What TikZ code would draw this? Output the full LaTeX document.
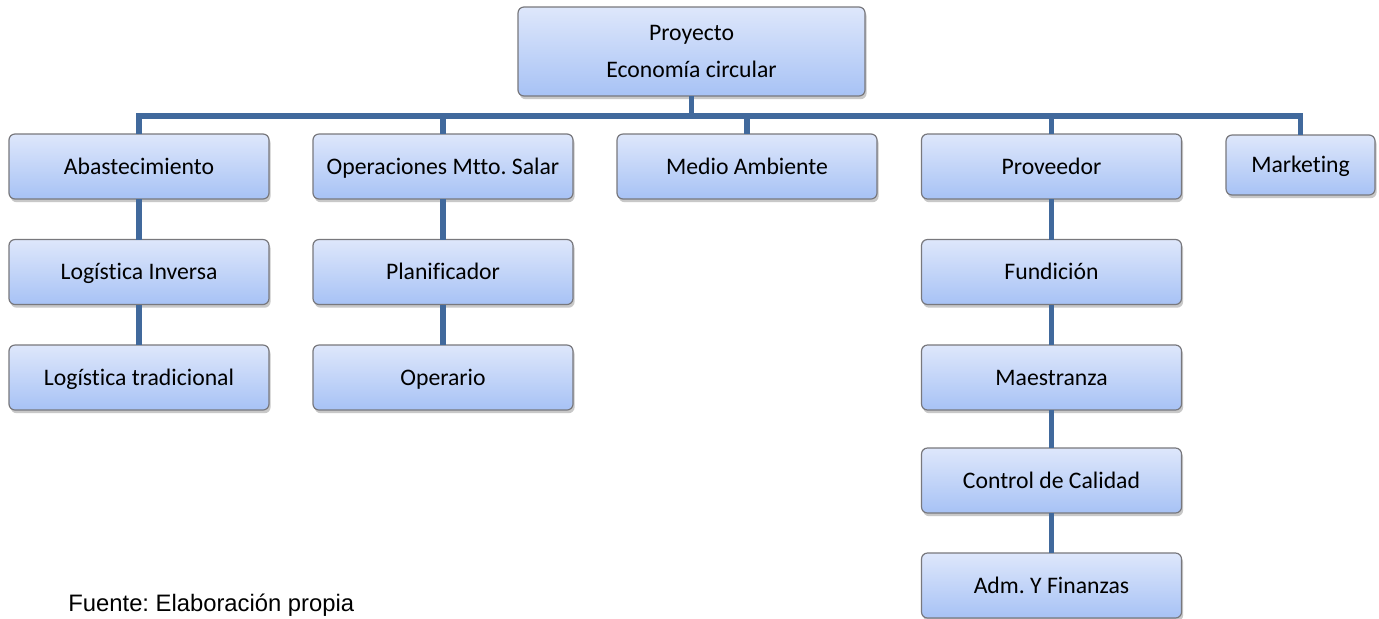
\documentclass[tikz,border=0pt]{standalone}
\usepackage{fontspec}
\setmainfont{Carlito}[Ligatures=NoCommon]
\newfontfamily\arialfont{Liberation Sans}
\usetikzlibrary{shadows}
\definecolor{boxtop}{RGB}{222,231,251}
\definecolor{boxbot}{RGB}{167,194,245}
\definecolor{boxline}{RGB}{120,120,125}
\definecolor{conn}{RGB}{65,105,156}
\tikzset{
  orgbase/.style={draw=boxline, line width=0.6pt, rounded corners=3pt,
    top color=boxtop, bottom color=boxbot, inner sep=0pt, outer sep=0pt,
    align=center, font=\fontsize{11.85}{18.5}\selectfont,
    drop shadow={shadow xshift=0.8pt, shadow yshift=-1.6pt, opacity=0.3, fill=black!70}},
  orgbox/.style={orgbase, minimum width=130pt, minimum height=32.5pt,
    text height=9pt, text depth=1.5pt},
  link/.style={draw=conn, line width=2.6pt}
}
\begin{document}
\frenchspacing
\begin{tikzpicture}[x=0.5pt, y=-0.5pt]
\clip (0,0) rectangle (1379,618);
\useasboundingbox (0,0) rectangle (1379,618);
\fill[white] (0,0) rectangle (1379,618);

\coordinate (bus) at (691.5,116);
\node[orgbase, minimum width=173.5pt, minimum height=44.5pt] (top) at (691.5,51.5) {Proyecto\\Economía circular};
\node[orgbox] (abas) at (139,166.5) {Abastecimiento};
\node[orgbox] (oper) at (443,166.5) {Operaciones Mtto. Salar};
\node[orgbox] (medio) at (747,166.5) {Medio Ambiente};
\node[orgbox] (prov) at (1051.5,166.5) {Proveedor};
\node[orgbox, minimum width=74.5pt, minimum height=30pt] (mark) at (1300.5,165) {Marketing};
\node[orgbox] (logi) at (139,272) {Logística Inversa};
\node[orgbox] (logt) at (139,377.5) {Logística tradicional};
\node[orgbox] (plan) at (443,272) {Planificador};
\node[orgbox] (opera) at (443,377.5) {Operario};
\node[orgbox] (fund) at (1051.5,272) {Fundición};
\node[orgbox] (maes) at (1051.5,377.5) {Maestranza};
\node[orgbox] (ctrl) at (1051.5,480.5) {Control de Calidad};
\node[orgbox] (adm) at (1051.5,585.5) {Adm. Y Finanzas};

\path[link] (top.south) -- (bus);
\path[link] (bus) -| (abas.north);
\path[link] (bus) -| (oper.north);
\path[link] (bus) -| (medio.north);
\path[link] (bus) -| (prov.north);
\path[link] (bus) -| (mark.north);
\path[link] (abas.south) -- (logi.north);
\path[link] (logi.south) -- (logt.north);
\path[link] (oper.south) -- (plan.north);
\path[link] (plan.south) -- (opera.north);
\path[link] (prov.south) -- (fund.north);
\path[link] (fund.south) -- (maes.north);
\path[link] (maes.south) -- (ctrl.north);
\path[link] (ctrl.south) -- (adm.north);

\node[anchor=base west, inner sep=0pt, font=\arialfont\fontsize{11.9}{14}\selectfont] (src) at (68,611) {Fuente: Elaboración propia};
\end{tikzpicture}
\end{document}
